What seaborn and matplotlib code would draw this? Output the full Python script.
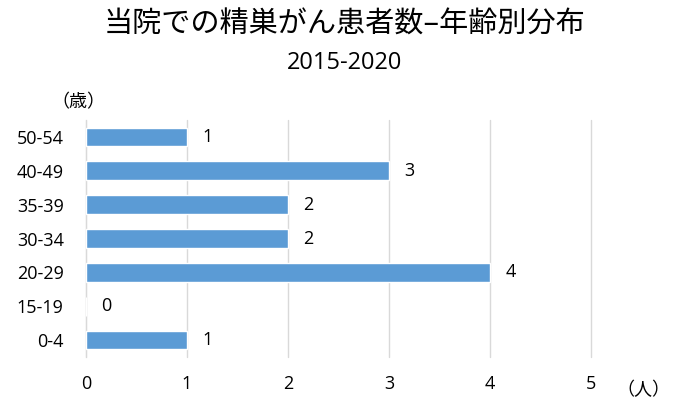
import matplotlib
matplotlib.use("Agg")
import matplotlib.pyplot as plt
import seaborn as sns
import pandas as pd

categories = ["50-54", "40-49", "35-39", "30-34", "20-29", "15-19", "0-4"]
values = [1, 3, 2, 2, 4, 0, 1]
xticks = [0, 1, 2, 3, 4, 5]

sns.set_style("white")
plt.rcParams['font.family'] = ['Open Sans', 'Noto Sans CJK JP', 'DejaVu Sans']
plt.rcParams['text.color'] = 'black'
cjk = ['Noto Sans CJK JP', 'DejaVu Sans']

df = pd.DataFrame({"age": categories, "count": values})

fig = plt.figure(figsize=(6.9, 4.16), dpi=100)
ax = fig.add_axes([0.1246, 0.1418, 0.7319, 0.5697])
sns.barplot(data=df, x="count", y="age", orient="h", color="#5B9BD5",
            saturation=1, width=0.55, ax=ax, zorder=3)
ax.set_xlim(0, 5)
ax.set_ylim(6.5, -0.5)
ax.set_xticks(xticks)
ax.set_xticklabels([str(t) for t in xticks])
ax.grid(axis="x", color="#D9D9D9", linewidth=1, zorder=0)
ax.grid(axis="y", visible=False)
for gl in ax.xaxis.get_gridlines():
    gl.set_clip_on(False)
for s in ["top", "right", "bottom"]:
    ax.spines[s].set_visible(False)
ax.spines["left"].set_color("#D9D9D9")
ax.tick_params(axis="both", length=0, labelsize=13, labelcolor="black")
ax.tick_params(axis="x", pad=13)
ax.tick_params(axis="y", pad=16)
ax.set_xlabel("")
ax.set_ylabel("")
for i, v in enumerate(values):
    ax.text(v + 0.15, i, str(v), va="center", ha="left", fontsize=13, color="black")

fig.text(0.5, 0.942, "当院での精巣がん患者数–年齢別分布", ha="center", va="center",
         fontsize=21, family=cjk, color="black")
fig.text(0.5, 0.848, "2015-2020", ha="center", va="center", fontsize=17, color="black")
fig.text(0.113, 0.755, "（歳）", ha="center", va="center", fontsize=13, family=cjk, color="black")
fig.text(0.932, 0.0625, "（人）", ha="center", va="center", fontsize=13, family=cjk, color="black")

fig.savefig("out.png", dpi=100)
